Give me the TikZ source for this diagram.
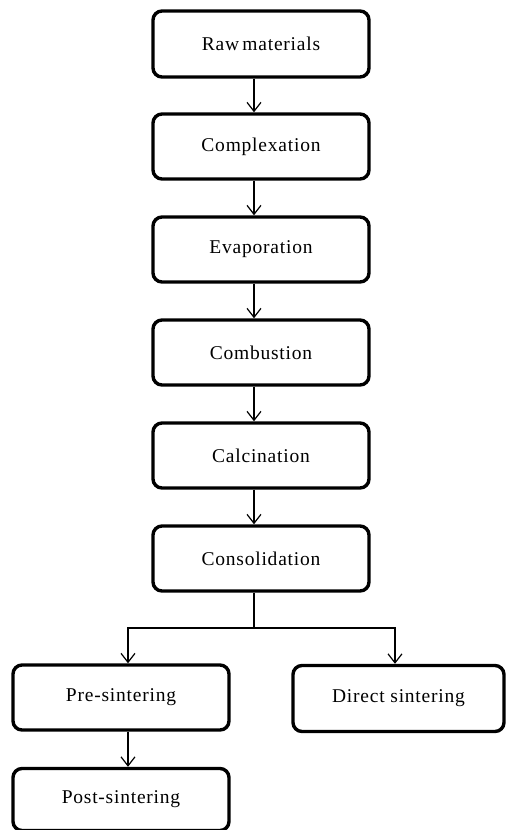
\documentclass[tikz,border=0pt]{standalone}
\usepackage{fontspec}
\setmainfont{Liberation Serif}
\newfontfamily\boxfont[LetterSpace=4]{Liberation Serif}
\usetikzlibrary{arrows.meta}
\begin{document}
\begin{tikzpicture}[x=1pt,y=-1pt,
  box/.style={draw=black, line width=3.4pt, rounded corners=9pt, fill=white,
    inner sep=0pt, font=\boxfont\fontsize{19.5}{22}\selectfont},
  arr/.style={line width=1.2pt, -{Straight Barb[length=9pt,width=14pt,line width=1.2pt]}},
  lin/.style={line width=1.2pt}]
\useasboundingbox[fill=white] (0,0) rectangle (507,830);
\node[box, minimum width=216pt, minimum height=66pt] (raw) at (261,44) {Raw\,materials};
\node[box, minimum width=216pt, minimum height=65pt] (comp) at (261,146.5) {Complexation};
\node[box, minimum width=216pt, minimum height=65pt] (evap) at (261,249.5) {Evaporation};
\node[box, minimum width=216pt, minimum height=65pt] (comb) at (261,352.5) {Combustion};
\node[box, minimum width=216pt, minimum height=65pt] (calc) at (261,455.5) {Calcination};
\node[box, minimum width=216pt, minimum height=65pt] (cons) at (261,558.5) {Consolidation};
\node[box, minimum width=216pt, minimum height=65pt] (pre) at (121,697.5) {Pre-sintering};
\node[box, minimum width=211pt, minimum height=66pt] (dir) at (398.5,698.5) {Direct sintering};
\node[box, minimum width=216pt, minimum height=62pt] (post) at (121,799.5) {Post-sintering};
\coordinate (split) at (254,628);
\draw[arr] ([xshift=-7pt]raw.south) -- ([xshift=-7pt]comp.north);
\draw[arr] ([xshift=-7pt]comp.south) -- ([xshift=-7pt]evap.north);
\draw[arr] ([xshift=-7pt]evap.south) -- ([xshift=-7pt]comb.north);
\draw[arr] ([xshift=-7pt]comb.south) -- ([xshift=-7pt]calc.north);
\draw[arr] ([xshift=-7pt]calc.south) -- ([xshift=-7pt]cons.north);
\draw[lin] ([xshift=-7pt]cons.south) -- (split);
\draw[arr] (split) -| ([xshift=7pt]pre.north);
\draw[arr] (split) -| ([xshift=-3.5pt]dir.north);
\draw[arr] ([xshift=7pt]pre.south) -- ([xshift=7pt]post.north);
\end{tikzpicture}
\end{document}
